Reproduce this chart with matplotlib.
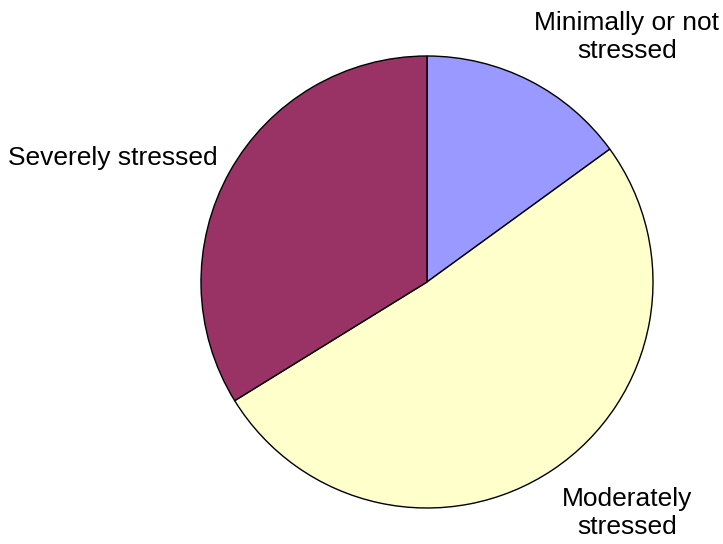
import matplotlib
matplotlib.use("Agg")
import matplotlib.pyplot as plt

labels = ["Minimally or not\nstressed", "Moderately\nstressed", "Severely stressed"]
shares = [15.0, 51.2, 33.8]
colors = ["#9999FF", "#FFFFCC", "#993366"]

plt.rcParams['font.family'] = ['Liberation Sans', 'DejaVu Sans']

fig = plt.figure(figsize=(7.23, 5.44), dpi=100)
cx, cy, r = 427, 282, 226
ax = fig.add_axes([(cx - r) / 723, (544 - cy - r) / 544, 2 * r / 723, 2 * r / 544])
ax.pie(shares, colors=colors, startangle=90, counterclock=False,
       wedgeprops=dict(edgecolor="black", linewidth=1))
ax.set_xlim(-1, 1)
ax.set_ylim(-1, 1)
ax.set_aspect("equal")

fs = 19
fig.text(627 / 723, 1 - 37 / 544, labels[0], ha="center", va="center", fontsize=fs)
fig.text(627 / 723, 1 - 513 / 544, labels[1], ha="center", va="center", fontsize=fs)
fig.text(113 / 723, 1 - 158 / 544, labels[2], ha="center", va="center", fontsize=fs)

fig.savefig("out.png", dpi=100)
